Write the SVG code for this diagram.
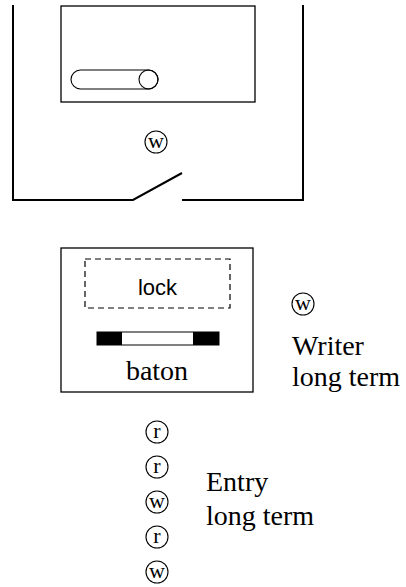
<svg xmlns="http://www.w3.org/2000/svg" width="406" height="587" viewBox="0 0 406 587">
<style>
.ln{fill:none;stroke:#000;stroke-width:2}
.bx{fill:#fff;stroke:#000;stroke-width:1.3}
.ser{font-family:"Liberation Serif","Times New Roman",serif;font-size:28px;fill:#000}
.san{font-family:"Liberation Sans",Arial,sans-serif;font-size:22px;fill:#000}
.cl{fill:none;stroke:#000;stroke-width:1.1}
.lt{font-family:"Liberation Serif","Times New Roman",serif;font-size:22px;fill:#000;text-anchor:middle}
</style>
<rect width="406" height="587" fill="#fff"/>
<g id="outer-room">
<polyline class="ln" points="13,5 13,200 133,200 182,173"/>
<polyline class="ln" points="182,200 303,200 303,5"/>
</g>
<g id="inner-room">
<rect class="bx" x="61" y="6" width="194" height="96"/>
<rect class="cl" x="71" y="70" width="87" height="19" rx="9.5"/>
<circle class="cl" cx="148.5" cy="79.5" r="9.5"/>
</g>
<g id="writer-inside">
<circle class="cl" cx="156" cy="142" r="11"/>
<text class="lt" x="156" y="148">w</text>
</g>
<g id="lock-box">
<rect class="bx" x="61" y="248" width="192" height="144"/>
<rect fill="none" stroke="#000" stroke-width="1.2" stroke-dasharray="6,4" x="85" y="259" width="145" height="49"/>
<text class="san" x="157.5" y="295" text-anchor="middle">lock</text>
<rect x="97" y="332" width="122" height="13" fill="#fff" stroke="#000" stroke-width="1"/>
<rect x="97" y="332" width="25" height="13" fill="#000"/>
<rect x="193" y="332" width="26" height="13" fill="#000"/>
<text class="ser" x="157" y="380" text-anchor="middle">baton</text>
</g>
<g id="writer-long-term">
<circle class="cl" cx="303" cy="304" r="11"/>
<text class="lt" x="303" y="310">w</text>
<text class="ser" x="292" y="355">Writer</text>
<text class="ser" x="292" y="386">long term</text>
</g>
<g id="entry-queue">
<circle class="cl" cx="157" cy="432" r="11"/>
<text class="lt" x="157" y="438">r</text>
<circle class="cl" cx="157" cy="467" r="11"/>
<text class="lt" x="157" y="473">r</text>
<circle class="cl" cx="157" cy="502" r="11"/>
<text class="lt" x="157" y="508">w</text>
<circle class="cl" cx="157" cy="537" r="11"/>
<text class="lt" x="157" y="543">r</text>
<circle class="cl" cx="157" cy="572" r="11"/>
<text class="lt" x="157" y="578">w</text>
<text class="ser" x="206" y="491">Entry</text>
<text class="ser" x="206" y="525">long term</text>
</g>
<g id="connectors"/>
</svg>
